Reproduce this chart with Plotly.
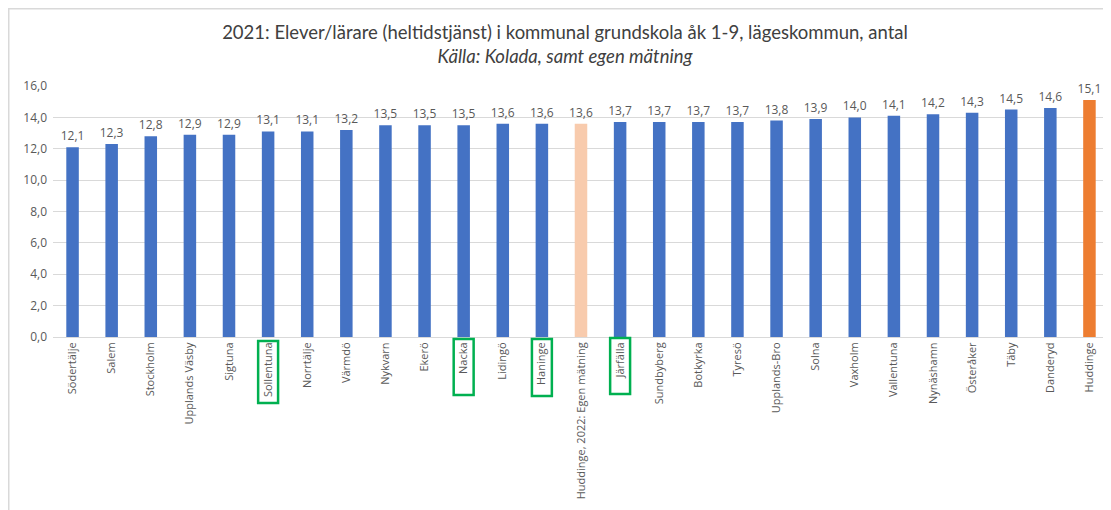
import plotly.graph_objects as go

# --- data -----------------------------------------------------------------
kommuner = [
    "Södertälje", "Salem", "Stockholm", "Upplands Väsby", "Sigtuna",
    "Sollentuna", "Norrtälje", "Värmdö", "Nykvarn", "Ekerö", "Nacka",
    "Lidingö", "Haninge", "Huddinge, 2022: Egen mätning", "Järfälla",
    "Sundbyberg", "Botkyrka", "Tyresö", "Upplands-Bro", "Solna", "Vaxholm",
    "Vallentuna", "Nynäshamn", "Österåker", "Täby", "Danderyd", "Huddinge",
]
elever_per_larare = [
    12.1, 12.3, 12.8, 12.9, 12.9, 13.1, 13.1, 13.2, 13.5, 13.5, 13.5,
    13.6, 13.6, 13.6, 13.7, 13.7, 13.7, 13.7, 13.8, 13.9, 14.0,
    14.1, 14.2, 14.3, 14.5, 14.6, 15.1,
]
y_ticks = [0, 2, 4, 6, 8, 10, 12, 14, 16]
markerade = ["Sollentuna", "Nacka", "Haninge", "Järfälla"]

# --- styling --------------------------------------------------------------
BLUE = "#4472C4"
PEACH = "#F8CBAD"
ORANGE = "#ED7D31"
GREEN = "#00B050"
GRID = "#D9D9D9"
TXT = "#595959"

# page body has an 8px margin, so the figure is a bit smaller than the window
W, H = 1103, 502
M_L, M_R, M_T, M_B = 45, 2, 78, 173
plot_w = W - M_L - M_R
plot_h = H - M_T - M_B

colors = []
for k in kommuner:
    if k == "Huddinge":
        colors.append(ORANGE)
    elif k.startswith("Huddinge, 2022"):
        colors.append(PEACH)
    else:
        colors.append(BLUE)

fig = go.Figure()
fig.add_trace(go.Bar(
    x=kommuner, y=elever_per_larare,
    marker=dict(color=colors, line=dict(width=0)),
    texttemplate="%{y:.1f}", textposition="outside", constraintext="none",
    textfont=dict(family="Open Sans, sans-serif", size=12, color=TXT),
    cliponaxis=False, hoverinfo="x+y",
))

# green frames round some tick labels (pixel top/bottom of each box)
box_px = {"Sollentuna": (333, 395), "Nacka": (331, 387),
          "Haninge": (331, 388), "Järfälla": (330, 386)}
for k in markerade:
    top, bot = box_px[k]
    i = kommuner.index(k)
    fig.add_shape(type="rect", xref="x", yref="paper",
                  x0=i - 0.255, x1=i + 0.255,
                  y0=(M_T + plot_h - bot) / plot_h, y1=(M_T + plot_h - top) / plot_h,
                  line=dict(color=GREEN, width=2.5), layer="above")

# outer chart frame
fig.add_shape(type="rect", xref="paper", yref="paper",
              x0=(0.75 - M_L) / plot_w, x1=(W + 10 - M_L) / plot_w,
              y0=(M_T + plot_h - (H + 10)) / plot_h, y1=(M_T + plot_h - 0.75) / plot_h,
              line=dict(color=GRID, width=1.5), fillcolor="rgba(0,0,0,0)")

fig.update_layout(
    width=W, height=H,
    margin=dict(l=M_L, r=M_R, t=M_T, b=M_B),
    plot_bgcolor="white", paper_bgcolor="white",
    separators=", ",
    bargap=0.68,
    showlegend=False,
    font=dict(family="Open Sans, sans-serif", color=TXT),
    title=dict(
        text="2021: Elever/lärare (heltidstjänst) i kommunal grundskola åk 1-9, lägeskommun, antal"
             "<br><i>Källa: Kolada, samt egen mätning</i>",
        x=557 / W, xanchor="center", y=1 - 31 / H, yanchor="middle",
        font=dict(family="Lato, sans-serif", size=18.5, color="#404040"),
    ),
)
fig.update_xaxes(
    type="category", tickangle=-90,
    tickfont=dict(family="Open Sans, sans-serif", size=11, color=TXT),
    showline=True, linecolor=GRID, linewidth=1,
    ticks="", showgrid=False,
)
fig.update_yaxes(
    range=[0, 16], tickvals=y_ticks, tickformat=".1f",
    tickfont=dict(family="Open Sans, sans-serif", size=12, color=TXT),
    showgrid=True, gridcolor=GRID, gridwidth=1,
    zeroline=False, showline=False, ticks="", ticklabelstandoff=5,
)

fig.write_html("out.html")
